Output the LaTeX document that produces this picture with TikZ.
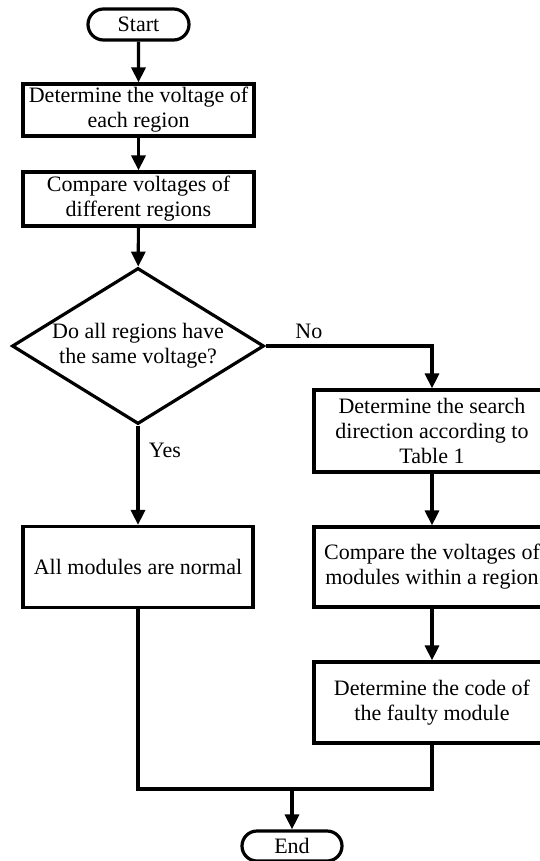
\documentclass[tikz,border=0pt]{standalone}
\usepackage{fontspec}
\setmainfont{Liberation Serif}
\usetikzlibrary{shapes.geometric,shapes.misc,arrows.meta}
\begin{document}
\begin{tikzpicture}[x=1pt,y=-1pt,
  every node/.style={font=\fontsize{22}{25}\selectfont},
  proc/.style={draw,line width=3.2pt,rectangle,align=center,inner sep=0pt},
  term/.style={draw,line width=3.2pt,rounded rectangle,inner sep=0pt},
  flow/.style={line width=3.2pt,-{Triangle[length=15pt,width=14pt]}},
  plainline/.style={line width=3.2pt}]
\useasboundingbox (0,0) rectangle (539,861);
% left column
\node[term,minimum width=101pt,minimum height=31pt] (start) at (138.5,24.5) {Start};
\node[proc,minimum width=231pt,minimum height=52pt] (vreg) at (138.5,110) {Determine the voltage of\\each region};
\node[proc,minimum width=231pt,minimum height=54pt] (cmpreg) at (138.5,199) {Compare voltages of\\different regions};
\node[draw,diamond,line width=3.2pt,minimum width=252pt,minimum height=156pt,inner sep=0pt] (same) at (138,346) {};
\node[align=center] (sametxt) at (138,346) {Do all regions have\\the same voltage?};
\node[proc,minimum width=230pt,minimum height=81pt] (normal) at (138,567) {All modules are normal};
% right column (runs past the right edge of the page)
\node[proc,minimum width=236pt,minimum height=82pt] (dir) at (432,431) {Determine the search\\direction according to\\Table 1};
\node[proc,minimum width=236pt,minimum height=80pt] (cmpmod) at (432,567) {Compare the voltages of\\modules within a region};
\node[proc,minimum width=236pt,minimum height=81pt] (code) at (432,702.5) {Determine the code of\\the faulty module};
% end
\node[term,minimum width=100pt,minimum height=30pt] (end) at (292,846) {End};
\coordinate (merge) at (292,789);
% connectors
\draw[flow] (start) -- (vreg);
\draw[flow] (vreg) -- (cmpreg);
\draw[flow] (cmpreg) -- (same);
\draw[flow] (same.east) -| (dir.north) node[pos=0.13,above=2pt] (no) {No};
\draw[flow] (same.south) -- (normal.north) node[pos=0.25,right=6pt] (yes) {Yes};
\draw[flow] (dir) -- (cmpmod);
\draw[flow] (cmpmod) -- (code);
\draw[plainline] (normal.south) |- (merge);
\draw[plainline] (code.south) |- (merge);
\draw[flow] (merge) -- (end);
\end{tikzpicture}
\end{document}
